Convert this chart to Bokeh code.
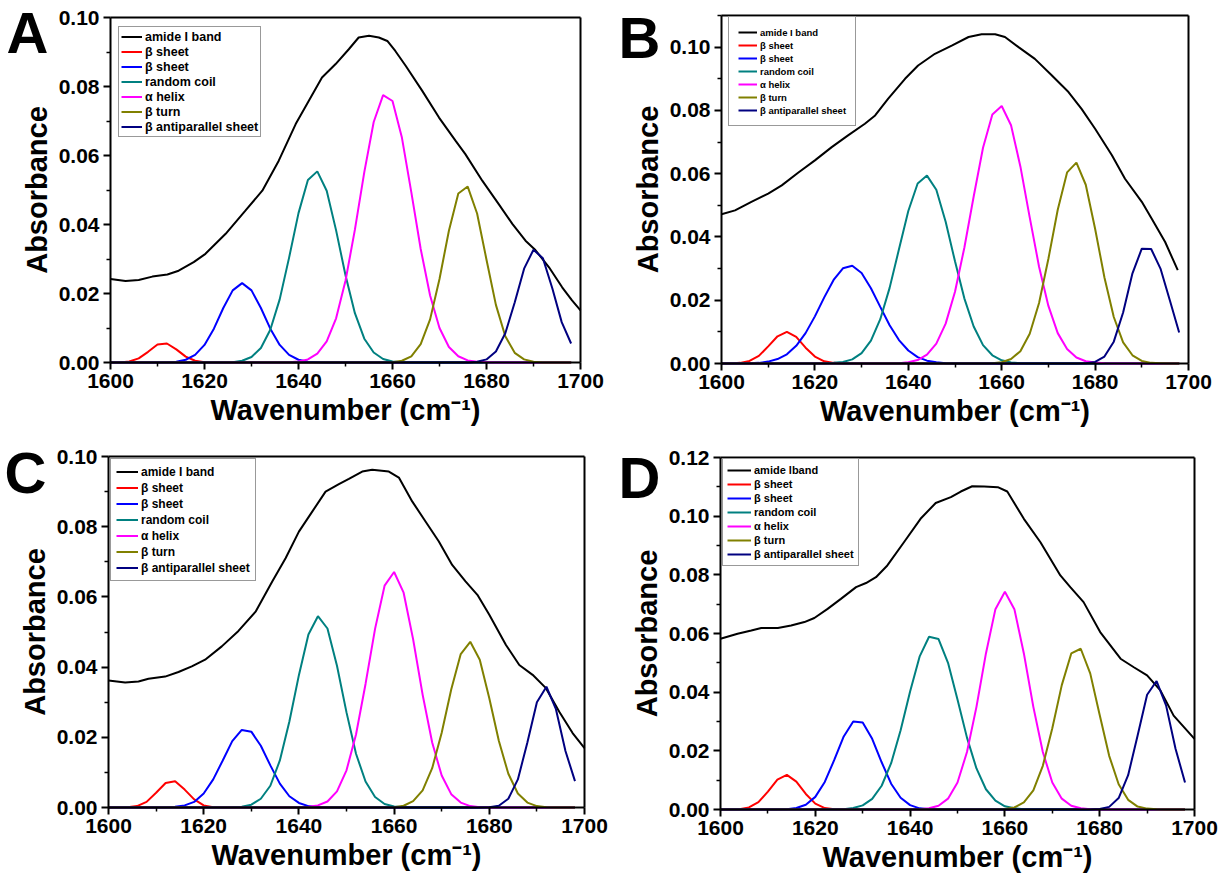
from bokeh.plotting import figure
from bokeh.layouts import column, row
from bokeh.models import (Range1d, FixedTicker, PrintfTickFormatter, LinearAxis,
                          Legend, LegendItem, Label)
from bokeh.embed import file_html
from bokeh.resources import INLINE

# ---------------- data ----------------
WN = [1600, 1602, 1604, 1606, 1608, 1610, 1612, 1614, 1616, 1618,
      1620, 1622, 1624, 1626, 1628, 1630, 1632, 1634, 1636, 1638,
      1640, 1642, 1644, 1646, 1648, 1650, 1652, 1654, 1656, 1658,
      1660, 1662, 1664, 1666, 1668, 1670, 1672, 1674, 1676, 1678,
      1680, 1682, 1684, 1686, 1688, 1690, 1692, 1694, 1696, 1698]

X_TICKS = [1600, 1620, 1640, 1660, 1680, 1700]
X_MINOR = [1610, 1630, 1650, 1670, 1690]
Y_TICKS_10 = [0.0, 0.02, 0.04, 0.06, 0.08, 0.10]
Y_TICKS_12 = [0.0, 0.02, 0.04, 0.06, 0.08, 0.10, 0.12]
Y_MINOR = [0.01, 0.03, 0.05, 0.07, 0.09, 0.11]

LABELS = ["amide I band", "β sheet", "β sheet", "random coil",
          "α helix", "β turn", "β antiparallel sheet"]
LABELS_D = ["amide lband", "β sheet", "β sheet", "random coil",
            "α helix", "β turn", "β antiparallel sheet"]
COLORS = ["#000000", "#ff0000", "#0000ff", "#008080", "#ff00ff", "#808000", "#000080"]

# ---- panel A ----
A_amide_x = [1600, 1603.2, 1606, 1608.9, 1612.1, 1614.5, 1617.7, 1620.2, 1624.5, 1628.7,
             1632.3, 1635.8, 1639.4, 1642.2, 1645, 1647.9, 1650.7, 1652.8, 1655, 1657.1,
             1658.9, 1660.6, 1662.8, 1666.3, 1669.9, 1673.4, 1675.5, 1679.1, 1682.6, 1685.5,
             1688.3, 1690.4, 1693.3, 1696.1, 1698.2, 1700]
A_amide_y = [0.0242, 0.0236, 0.0239, 0.0249, 0.0255, 0.0266, 0.0291, 0.0315, 0.0373, 0.044,
             0.0498, 0.0585, 0.0691, 0.0759, 0.0826, 0.0865, 0.0908, 0.0942, 0.0947, 0.0942,
             0.0932, 0.0903, 0.086, 0.0788, 0.071, 0.0643, 0.0604, 0.0527, 0.0459, 0.0402,
             0.0353, 0.0326, 0.0276, 0.0218, 0.018, 0.0151]
A_red = [0, 0, 0.0003, 0.0012, 0.0031, 0.0052, 0.0055, 0.0038, 0.0017, 0.0005,
         0.0001, 0, 0, 0, 0, 0, 0, 0, 0, 0,
         0, 0, 0, 0, 0, 0, 0, 0, 0, 0,
         0, 0, 0, 0, 0, 0, 0, 0, 0, 0,
         0, 0, 0, 0, 0, 0, 0, 0, 0, 0]
A_blue = [0, 0, 0, 0, 0, 0, 0.0001, 0.0002, 0.0008, 0.0022,
          0.0051, 0.0098, 0.0158, 0.0209, 0.023, 0.0209, 0.0158, 0.0098, 0.0051, 0.0022,
          0.0008, 0.0002, 0.0001, 0, 0, 0, 0, 0, 0, 0,
          0, 0, 0, 0, 0, 0, 0, 0, 0, 0,
          0, 0, 0, 0, 0, 0, 0, 0, 0, 0]
A_coil = [0, 0, 0, 0, 0, 0, 0, 0, 0, 0,
          0, 0, 0, 0.0001, 0.0005, 0.0016, 0.0042, 0.0095, 0.0183, 0.0304,
          0.0433, 0.0529, 0.0554, 0.0498, 0.0383, 0.0253, 0.0143, 0.0069, 0.0029, 0.001,
          0.0003, 0.0001, 0, 0, 0, 0, 0, 0, 0, 0,
          0, 0, 0, 0, 0, 0, 0, 0, 0, 0]
A_helix = [0, 0, 0, 0, 0, 0, 0, 0, 0, 0,
           0, 0, 0, 0, 0, 0, 0, 0, 0, 0.0001,
           0.0003, 0.0009, 0.0026, 0.0061, 0.0128, 0.0237, 0.0385, 0.0552, 0.0697, 0.0775,
           0.0758, 0.0652, 0.0494, 0.0329, 0.0194, 0.01, 0.0045, 0.0018, 0.0006, 0.0002,
           0.0001, 0, 0, 0, 0, 0, 0, 0, 0, 0]
A_turn = [0, 0, 0, 0, 0, 0, 0, 0, 0, 0,
          0, 0, 0, 0, 0, 0, 0, 0, 0, 0,
          0, 0, 0, 0, 0, 0, 0, 0, 0, 0,
          0.0001, 0.0005, 0.0018, 0.0053, 0.0125, 0.0242, 0.0382, 0.049, 0.051, 0.0432,
          0.0298, 0.0167, 0.0076, 0.0028, 0.0009, 0.0002, 0, 0, 0, 0]
A_anti = [0, 0, 0, 0, 0, 0, 0, 0, 0, 0,
          0, 0, 0, 0, 0, 0, 0, 0, 0, 0,
          0, 0, 0, 0, 0, 0, 0, 0, 0, 0,
          0, 0, 0, 0, 0, 0, 0, 0, 0, 0.0002,
          0.0009, 0.0032, 0.0085, 0.0174, 0.0272, 0.0327, 0.0302, 0.0215, 0.0117, 0.0055]

# ---- panel B ----
B_amide_x = [1600, 1602.9, 1606.4, 1610, 1612.9, 1616.4, 1620, 1623.6, 1627.1, 1630.7,
             1632.9, 1635.7, 1639.3, 1642.1, 1645.7, 1649.3, 1652.9, 1655.7, 1658.6, 1660.7,
             1663.6, 1667.1, 1670.7, 1674.3, 1677.1, 1680, 1683.6, 1686.4, 1690, 1692.1,
             1695, 1697.7]
B_amide_y = [0.0472, 0.0484, 0.0511, 0.0537, 0.0563, 0.0603, 0.0642, 0.0684, 0.0721, 0.0758,
             0.0784, 0.0837, 0.09, 0.0942, 0.0979, 0.1005, 0.1032, 0.1041, 0.1041, 0.1032,
             0.1, 0.0963, 0.0911, 0.0858, 0.0805, 0.0742, 0.0658, 0.0584, 0.0511, 0.0458,
             0.0384, 0.0295]
B_red = [0, 0, 0.0002, 0.0008, 0.0024, 0.0054, 0.0086, 0.01, 0.0084, 0.005,
         0.0022, 0.0007, 0.0002, 0, 0, 0, 0, 0, 0, 0,
         0, 0, 0, 0, 0, 0, 0, 0, 0, 0,
         0, 0, 0, 0, 0, 0, 0, 0, 0, 0,
         0, 0, 0, 0, 0, 0, 0, 0, 0, 0]
B_blue = [0, 0, 0, 0.0001, 0.0002, 0.0006, 0.0014, 0.0029, 0.0056, 0.0096,
          0.0149, 0.0209, 0.0264, 0.0301, 0.0309, 0.0286, 0.0238, 0.0179, 0.0121, 0.0074,
          0.0041, 0.002, 0.0009, 0.0004, 0.0001, 0, 0, 0, 0, 0,
          0, 0, 0, 0, 0, 0, 0, 0, 0, 0,
          0, 0, 0, 0, 0, 0, 0, 0, 0, 0]
B_coil = [0, 0, 0, 0, 0, 0, 0, 0, 0, 0,
          0, 0, 0.0002, 0.0005, 0.0013, 0.0033, 0.0072, 0.014, 0.0239, 0.0361,
          0.0482, 0.0569, 0.0594, 0.0549, 0.0448, 0.0323, 0.0206, 0.0117, 0.0058, 0.0026,
          0.001, 0.0003, 0.0001, 0, 0, 0, 0, 0, 0, 0,
          0, 0, 0, 0, 0, 0, 0, 0, 0, 0]
B_helix = [0, 0, 0, 0, 0, 0, 0, 0, 0, 0,
           0, 0, 0, 0, 0, 0, 0, 0, 0, 0.0001,
           0.0004, 0.0011, 0.0028, 0.0063, 0.0126, 0.0227, 0.0366, 0.0528, 0.0682, 0.0787,
           0.0814, 0.0753, 0.0623, 0.0462, 0.0306, 0.0182, 0.0096, 0.0046, 0.0019, 0.0007,
           0.0003, 0.0001, 0, 0, 0, 0, 0, 0, 0, 0]
B_turn = [0, 0, 0, 0, 0, 0, 0, 0, 0, 0,
          0, 0, 0, 0, 0, 0, 0, 0, 0, 0,
          0, 0, 0, 0, 0, 0, 0, 0, 0, 0.0001,
          0.0004, 0.0014, 0.0039, 0.0094, 0.0191, 0.0331, 0.0486, 0.0604, 0.0635, 0.0565,
          0.0426, 0.0272, 0.0147, 0.0067, 0.0026, 0.0008, 0.0002, 0.0001, 0, 0]
B_anti = [0, 0, 0, 0, 0, 0, 0, 0, 0, 0,
          0, 0, 0, 0, 0, 0, 0, 0, 0, 0,
          0, 0, 0, 0, 0, 0, 0, 0, 0, 0,
          0, 0, 0, 0, 0, 0, 0, 0, 0, 0.0001,
          0.0005, 0.0022, 0.0069, 0.0161, 0.0285, 0.0363, 0.0362, 0.03, 0.02, 0.0098]

# ---- panel C ----
C_amide_x = [1600, 1603.5, 1606.3, 1608.4, 1611.9, 1614.7, 1617.5, 1620.3, 1623.8, 1627.3,
             1630.9, 1634.4, 1637.2, 1640, 1642.8, 1645.6, 1648.4, 1650.5, 1653.3, 1655.4,
             1658.9, 1661, 1663.8, 1666.6, 1669.4, 1672.2, 1675, 1677.5, 1680, 1683.5,
             1686.3, 1689.1, 1691.9, 1694.7, 1697.5, 1700]
C_amide_y = [0.0362, 0.0356, 0.0359, 0.0367, 0.0373, 0.0386, 0.0402, 0.0421, 0.0459, 0.0503,
             0.0558, 0.0644, 0.071, 0.0786, 0.0843, 0.09, 0.0921, 0.0936, 0.0957, 0.0962,
             0.0957, 0.094, 0.0872, 0.0815, 0.0758, 0.0691, 0.0644, 0.0606, 0.0549, 0.0463,
             0.0406, 0.0378, 0.034, 0.0273, 0.0212, 0.0169]
C_red = [0, 0, 0.0001, 0.0004, 0.0016, 0.0042, 0.007, 0.0075, 0.0051, 0.0023,
         0.0006, 0.0001, 0, 0, 0, 0, 0, 0, 0, 0,
         0, 0, 0, 0, 0, 0, 0, 0, 0, 0,
         0, 0, 0, 0, 0, 0, 0, 0, 0, 0,
         0, 0, 0, 0, 0, 0, 0, 0, 0, 0]
C_blue = [0, 0, 0, 0, 0, 0, 0, 0.0002, 0.0006, 0.0016,
          0.004, 0.008, 0.0134, 0.0189, 0.0221, 0.0216, 0.0176, 0.012, 0.0068, 0.0032,
          0.0013, 0.0004, 0.0001, 0, 0, 0, 0, 0, 0, 0,
          0, 0, 0, 0, 0, 0, 0, 0, 0, 0,
          0, 0, 0, 0, 0, 0, 0, 0, 0, 0]
C_coil = [0, 0, 0, 0, 0, 0, 0, 0, 0, 0,
          0, 0, 0, 0.0001, 0.0002, 0.0008, 0.0025, 0.0062, 0.0134, 0.0245,
          0.0377, 0.0493, 0.0545, 0.051, 0.0404, 0.0271, 0.0153, 0.0074, 0.003, 0.001,
          0.0003, 0.0001, 0, 0, 0, 0, 0, 0, 0, 0,
          0, 0, 0, 0, 0, 0, 0, 0, 0, 0]
C_helix = [0, 0, 0, 0, 0, 0, 0, 0, 0, 0,
           0, 0, 0, 0, 0, 0, 0, 0, 0, 0,
           0, 0.0002, 0.0006, 0.0017, 0.0046, 0.0106, 0.0208, 0.0352, 0.0509, 0.0632,
           0.0671, 0.0612, 0.0479, 0.0321, 0.0185, 0.0091, 0.0038, 0.0014, 0.0004, 0.0001,
           0, 0, 0, 0, 0, 0, 0, 0, 0, 0]
C_turn = [0, 0, 0, 0, 0, 0, 0, 0, 0, 0,
          0, 0, 0, 0, 0, 0, 0, 0, 0, 0,
          0, 0, 0, 0, 0, 0, 0, 0, 0, 0,
          0.0001, 0.0005, 0.0018, 0.0049, 0.0112, 0.0213, 0.0336, 0.0437, 0.0472, 0.0421,
          0.0311, 0.019, 0.0096, 0.004, 0.0014, 0.0004, 0.0001, 0, 0, 0]
C_anti = [0, 0, 0, 0, 0, 0, 0, 0, 0, 0,
          0, 0, 0, 0, 0, 0, 0, 0, 0, 0,
          0, 0, 0, 0, 0, 0, 0, 0, 0, 0,
          0, 0, 0, 0, 0, 0, 0, 0, 0, 0,
          0.0001, 0.0005, 0.0025, 0.008, 0.0185, 0.03, 0.0344, 0.028, 0.0161, 0.0075]

# ---- panel D ----
D_amide_x = [1600, 1603.6, 1606.5, 1608.6, 1612.1, 1614.9, 1617.7, 1619.8, 1622.6, 1625.4,
             1628.6, 1630.7, 1632.8, 1635.2, 1638.7, 1642.2, 1645.4, 1648.6, 1650.7, 1653.1,
             1655.6, 1658.5, 1660.5, 1664, 1667.5, 1671.7, 1673.8, 1676.6, 1680.1, 1684.4,
             1687.2, 1690, 1692.8, 1695.6, 1700]
D_amide_y = [0.0582, 0.0599, 0.061, 0.0619, 0.0619, 0.0627, 0.0639, 0.0653, 0.0684, 0.0718,
             0.0758, 0.0772, 0.0792, 0.0832, 0.0911, 0.0991, 0.1045, 0.1065, 0.1084, 0.1102,
             0.1101, 0.1099, 0.1084, 0.0991, 0.0911, 0.0798, 0.0758, 0.0707, 0.0605, 0.0514,
             0.0485, 0.0457, 0.0406, 0.032, 0.0241]
D_red = [0, 0, 0.0001, 0.0007, 0.0025, 0.0061, 0.0102, 0.0118, 0.0095, 0.0053,
         0.002, 0.0005, 0.0001, 0, 0, 0, 0, 0, 0, 0,
         0, 0, 0, 0, 0, 0, 0, 0, 0, 0,
         0, 0, 0, 0, 0, 0, 0, 0, 0, 0,
         0, 0, 0, 0, 0, 0, 0, 0, 0, 0]
D_blue = [0, 0, 0, 0, 0, 0, 0, 0.0001, 0.0005, 0.0016,
          0.0043, 0.0094, 0.0169, 0.0249, 0.03, 0.0297, 0.0241, 0.0161, 0.0088, 0.004,
          0.0015, 0.0004, 0.0001, 0, 0, 0, 0, 0, 0, 0,
          0, 0, 0, 0, 0, 0, 0, 0, 0, 0,
          0, 0, 0, 0, 0, 0, 0, 0, 0, 0]
D_coil = [0, 0, 0, 0, 0, 0, 0, 0, 0, 0,
          0, 0, 0, 0.0001, 0.0005, 0.0014, 0.0036, 0.0081, 0.0158, 0.027,
          0.0402, 0.0521, 0.0589, 0.0581, 0.05, 0.0375, 0.0245, 0.014, 0.0069, 0.003,
          0.0011, 0.0004, 0.0001, 0, 0, 0, 0, 0, 0, 0,
          0, 0, 0, 0, 0, 0, 0, 0, 0, 0]
D_helix = [0, 0, 0, 0, 0, 0, 0, 0, 0, 0,
           0, 0, 0, 0, 0, 0, 0, 0, 0, 0,
           0, 0.0001, 0.0004, 0.0013, 0.0037, 0.0092, 0.0196, 0.035, 0.0532, 0.0683,
           0.0742, 0.0683, 0.0532, 0.035, 0.0196, 0.0092, 0.0037, 0.0013, 0.0004, 0.0001,
           0, 0, 0, 0, 0, 0, 0, 0, 0, 0]
D_turn = [0, 0, 0, 0, 0, 0, 0, 0, 0, 0,
          0, 0, 0, 0, 0, 0, 0, 0, 0, 0,
          0, 0, 0, 0, 0, 0, 0, 0, 0, 0,
          0.0002, 0.0007, 0.0024, 0.0065, 0.0149, 0.0277, 0.0424, 0.0532, 0.0548, 0.0464,
          0.0322, 0.0183, 0.0086, 0.0033, 0.001, 0.0003, 0.0001, 0, 0, 0]
D_anti = [0, 0, 0, 0, 0, 0, 0, 0, 0, 0,
          0, 0, 0, 0, 0, 0, 0, 0, 0, 0,
          0, 0, 0, 0, 0, 0, 0, 0, 0, 0,
          0, 0, 0, 0, 0, 0, 0, 0, 0, 0,
          0.0002, 0.0009, 0.0039, 0.0117, 0.0252, 0.0391, 0.0438, 0.0355, 0.0207, 0.0092]

FONT = "Liberation Sans"
LETTER_PX = 58
LETTER_SHIFT = 21   # bokeh draws the alphabetic baseline this many px lower


def style_axis(ax):
    ax.axis_line_width = 2
    ax.axis_line_color = "black"
    ax.major_tick_line_width = 2
    ax.minor_tick_line_width = 1.5
    ax.major_tick_line_color = "black"
    ax.minor_tick_line_color = "black"
    ax.major_tick_out = 7
    ax.major_tick_in = 0
    ax.minor_tick_out = 4
    ax.minor_tick_in = 0
    ax.major_label_text_font = FONT
    ax.major_label_text_font_style = "bold"
    ax.major_label_text_font_size = "21px"
    ax.major_label_text_color = "black"
    ax.major_label_standoff = 4
    ax.axis_label_text_font = FONT
    ax.axis_label_text_font_style = "bold"
    ax.axis_label_text_font_size = "29px"
    ax.axis_label_text_color = "black"
    ax.axis_label_standoff = 3


def border_axis(loc, bounds):
    ax = LinearAxis(fixed_location=loc, bounds=bounds, ticker=FixedTicker(ticks=[]),
                    axis_line_width=2, axis_line_color="black",
                    major_tick_out=0, major_tick_in=0, minor_tick_out=0, minor_tick_in=0,
                    major_label_text_font_size="0px")
    return ax


def make_panel(letter, ymax, yticks, amide_x, amide_y, comps, labels,
               fig_box, geom, leg_cfg, letter_pos):
    FX, FY, W, H = fig_box          # figure box on the page (px)
    x16, x17, y0p, ytp = geom       # page px of x=1600, x=1700, y=0, y=ymax
    sx = (x17 - x16) / 100.0
    sy = (y0p - ytp) / ymax
    xr = Range1d(1600 - (x16 - FX) / sx, 1700 + (FX + W - x17) / sx)
    yr = Range1d(-(FY + H - y0p) / sy, ymax + (ytp - FY) / sy)
    p = figure(width=W, height=H, x_range=xr, y_range=yr,
               output_backend="svg", toolbar_location=None,
               min_border=0, min_border_left=0, min_border_right=0,
               min_border_top=0, min_border_bottom=0)
    p.background_fill_color = "white"
    p.border_fill_color = "white"
    p.grid.visible = False
    p.outline_line_color = None

    xa = p.xaxis[0]
    ya = p.yaxis[0]
    xa.fixed_location = 0
    ya.fixed_location = 1600
    xa.bounds = (1600, 1700)
    ya.bounds = (0, ymax)
    xa.ticker = FixedTicker(ticks=X_TICKS, minor_ticks=X_MINOR)
    ya.ticker = FixedTicker(ticks=yticks, minor_ticks=[m for m in Y_MINOR if m <= ymax + 1e-9])
    ya.formatter = PrintfTickFormatter(format="%.2f")
    xa.axis_label = "Wavenumber (cm\u207b\u00b9)"
    ya.axis_label = "Absorbance"
    style_axis(xa)
    style_axis(ya)
    p.add_layout(border_axis(1700, (0, ymax)), "right")
    p.add_layout(border_axis(ymax, (1600, 1700)), "above")

    items = []
    r = p.line(amide_x, amide_y, line_color=COLORS[0], line_width=2)
    items.append(LegendItem(label=labels[0], renderers=[r]))
    for comp, col, lab in zip(comps, COLORS[1:], labels[1:]):
        r = p.line(WN, comp, line_color=col, line_width=2)
        items.append(LegendItem(label=lab, renderers=[r]))

    fs, gw, lh, pad, spacing, (bx, by) = leg_cfg
    n = len(items)
    leg_h = 2 * pad + n * lh + (n - 1) * spacing
    leg = Legend(items=items, location=(bx - FX, (FY + H) - (by + leg_h)),
                 label_text_font=FONT, label_text_font_style="bold",
                 label_text_font_size=fs, label_text_color="black",
                 glyph_width=gw, glyph_height=lh, label_height=lh,
                 label_standoff=3, spacing=spacing, padding=pad, margin=0,
                 border_line_color="#333333", border_line_width=1.5,
                 background_fill_color="white", background_fill_alpha=1.0)
    p.add_layout(leg)

    lpx, lpy = letter_pos
    lpy = lpy - LETTER_SHIFT
    p.add_layout(Label(x=1600 + (lpx - x16) / sx, y=(y0p - lpy) / sy,
                       x_units="data", y_units="data", text=letter,
                       text_font=FONT, text_font_style="bold",
                       text_font_size="%dpx" % LETTER_PX,
                       text_color="black", text_align="left", text_baseline="alphabetic"))
    return p


pA = make_panel("A", 0.10, Y_TICKS_10, A_amide_x, A_amide_y,
                [A_red, A_blue, A_coil, A_helix, A_turn, A_anti], LABELS,
                (0, 0, 614, 436), (110, 580, 362, 17),
                ("12.5px", 21, 15, 2, 0, (118, 28)), (6, 53))
pB = make_panel("B", 0.11, Y_TICKS_10, B_amide_x, B_amide_y,
                [B_red, B_blue, B_coil, B_helix, B_turn, B_anti], LABELS,
                (614, 0, 608, 436), (721, 1188, 363, 15),
                ("9.5px", 19, 12, 9, 1, (728, 18)), (618, 58))
pC = make_panel("C", 0.10, Y_TICKS_10, C_amide_x, C_amide_y,
                [C_red, C_blue, C_coil, C_helix, C_turn, C_anti], LABELS,
                (0, 436, 614, 440), (108, 584, 807, 456),
                ("12px", 22, 15, 5, 1, (110, 460)), (4, 493))
pD = make_panel("D", 0.12, Y_TICKS_12, D_amide_x, D_amide_y,
                [D_red, D_blue, D_coil, D_helix, D_turn, D_anti], LABELS_D,
                (614, 436, 608, 440), (720, 1194, 809, 457),
                ("11px", 24, 14, 4, 0, (722, 460)), (618, 498))

layout = column(row(pA, pB), row(pC, pD))
open("out.html", "w").write(file_html(layout, INLINE))
